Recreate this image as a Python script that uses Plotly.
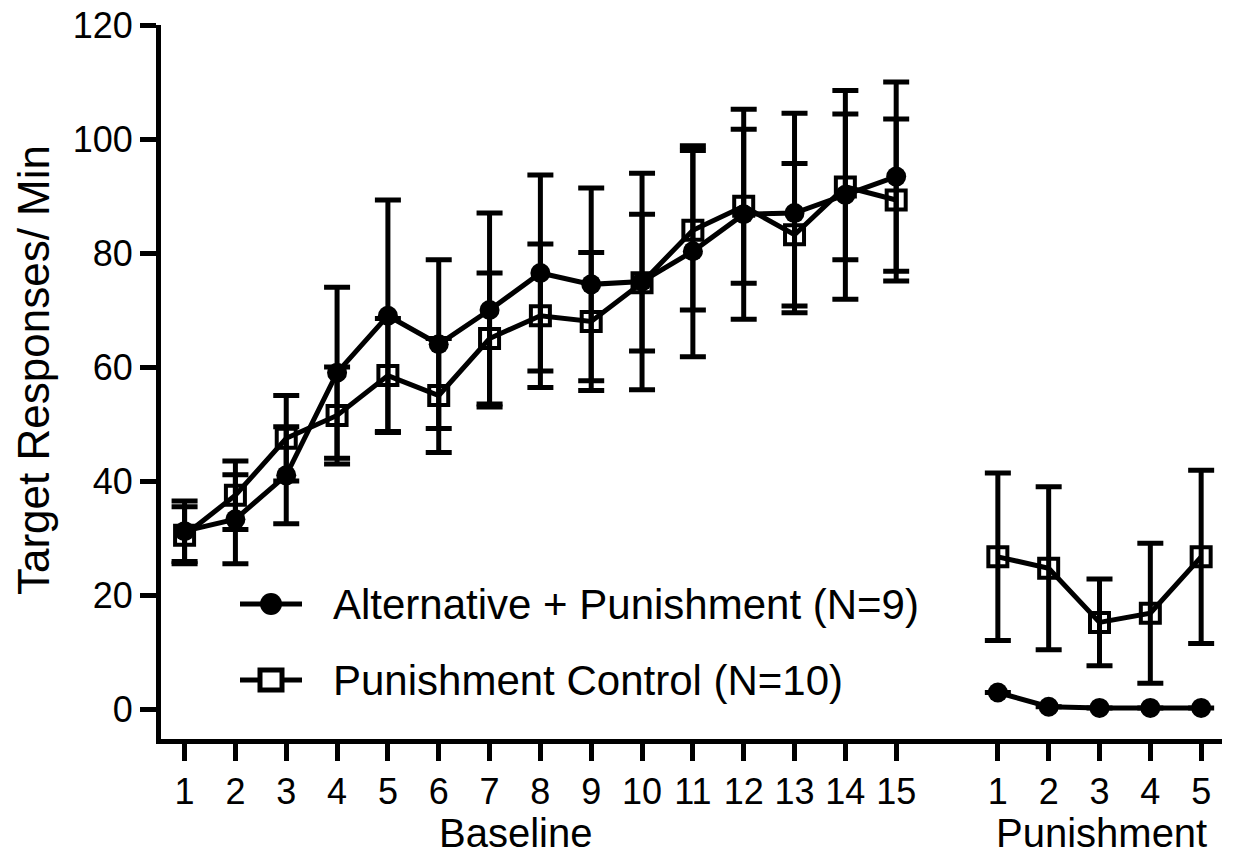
import plotly.graph_objects as go

# ---------------- data ----------------
baseline_sessions = list(range(1, 16))
punish_sessions = [1, 2, 3, 4, 5]
# x positions: punishment sessions placed after a 2-session gap
x_pos = baseline_sessions + [17, 18, 19, 20, 21]
tick_text = [str(s) for s in baseline_sessions] + [str(s) for s in punish_sessions]

alt_mean = [31.2, 33.3, 41.0, 59.0, 69.0, 64.0, 70.0, 76.5, 74.5, 75.0, 80.3, 86.8, 87.0, 90.2, 93.4,
            2.9, 0.4, 0.2, 0.2, 0.2]
alt_sem = [5.3, 7.8, 8.5, 15.0, 20.3, 14.8, 17.0, 17.2, 16.9, 19.0, 18.5, 18.4, 17.5, 18.3, 16.6,
           0.0, 0.0, 0.0, 0.0, 0.0]

ctl_mean = [30.5, 37.5, 47.5, 51.5, 58.5, 55.0, 65.0, 69.0, 68.0, 74.8, 84.0, 88.2, 83.2, 91.6, 89.3,
            26.7, 24.7, 15.2, 16.8, 26.7]
ctl_sem = [5.0, 6.0, 7.5, 8.5, 10.0, 10.0, 11.5, 12.6, 12.1, 12.0, 14.0, 13.5, 12.5, 12.8, 14.2,
           14.7, 14.3, 7.6, 12.3, 15.2]

alt_name = "Alternative + Punishment (N=9)"
ctl_name = "Punishment Control (N=10)"

# ---------------- layout geometry ----------------
W, H = 1235, 859
L, R, T, B = 161, 13, 25, 120
pw, ph = W - L - R, H - T - B


def px_x(p):
    return (p - L) / pw


def px_y(p):
    return 1 - (p - T) / ph


FONT = "Liberation Sans, Arial, Helvetica, sans-serif"

fig = go.Figure()

segments = [(0, 15), (15, 20)]
for name, mean, sem, sym, msize, mline in [
    (ctl_name, ctl_mean, ctl_sem, "square-open", 19, 4),
    (alt_name, alt_mean, alt_sem, "circle", 20, 0),
]:
    for a, b in segments:
        fig.add_trace(go.Scatter(
            x=x_pos[a:b], y=mean[a:b],
            mode="lines+markers",
            line=dict(color="black", width=5),
            marker=dict(symbol=sym, size=msize, color="black",
                        line=dict(color="black", width=mline)),
            error_y=dict(type="data", array=sem[a:b], visible=True,
                         color="black", thickness=5, width=13),
            showlegend=False, name=name,
        ))

fig.update_layout(
    width=W, height=H,
    margin=dict(l=L, r=R, t=T, b=B, autoexpand=False),
    showlegend=False,
    paper_bgcolor="white", plot_bgcolor="white",
    font=dict(family=FONT, color="black", size=36),
    xaxis=dict(range=[0.536, 21.41], tickvals=x_pos, ticktext=tick_text,
               ticks="outside", ticklen=17, tickwidth=5, tickcolor="black",
               showline=True, linewidth=5, linecolor="black",
               showgrid=False, zeroline=False, automargin=False,
               tickfont=dict(size=36, family=FONT)),
    yaxis=dict(range=[-5.26, 120], tickvals=[0, 20, 40, 60, 80, 100, 120],
               ticks="outside", ticklen=16, tickwidth=5, tickcolor="black",
               showline=True, linewidth=5, linecolor="black",
               showgrid=False, zeroline=False, automargin=False,
               tickfont=dict(size=36, family=FONT)),
)

# axis titles
fig.add_annotation(text="Target Responses/ Min", xref="paper", yref="paper",
                   x=px_x(33), y=px_y(370), textangle=-90, showarrow=False,
                   font=dict(size=44, family=FONT), xanchor="center", yanchor="middle")
fig.add_annotation(text="Baseline", xref="paper", yref="paper",
                   x=px_x(515), y=px_y(833), showarrow=False,
                   font=dict(size=40, family=FONT), xanchor="center", yanchor="middle")
fig.add_annotation(text="Punishment", xref="paper", yref="paper",
                   x=px_x(1101), y=px_y(833), showarrow=False,
                   font=dict(size=40, family=FONT), xanchor="center", yanchor="middle")

# manual legend
for ypx, name, kind in [(604, alt_name, "circle"), (680, ctl_name, "square")]:
    fig.add_shape(type="line", xref="paper", yref="paper",
                  x0=px_x(240), x1=px_x(302), y0=px_y(ypx), y1=px_y(ypx),
                  line=dict(color="black", width=5))
    if kind == "circle":
        fig.add_shape(type="circle", xref="paper", yref="paper",
                      x0=px_x(260), x1=px_x(282), y0=px_y(ypx + 11), y1=px_y(ypx - 11),
                      fillcolor="black", line=dict(color="black", width=0))
    else:
        fig.add_shape(type="rect", xref="paper", yref="paper",
                      x0=px_x(260), x1=px_x(282), y0=px_y(ypx + 10), y1=px_y(ypx - 10),
                      fillcolor="white", line=dict(color="black", width=5))
    fig.add_annotation(text=name, xref="paper", yref="paper",
                       x=px_x(331), y=px_y(ypx), showarrow=False,
                       font=dict(size=42, family=FONT), xanchor="left", yanchor="middle")

fig.write_html("out.html")
